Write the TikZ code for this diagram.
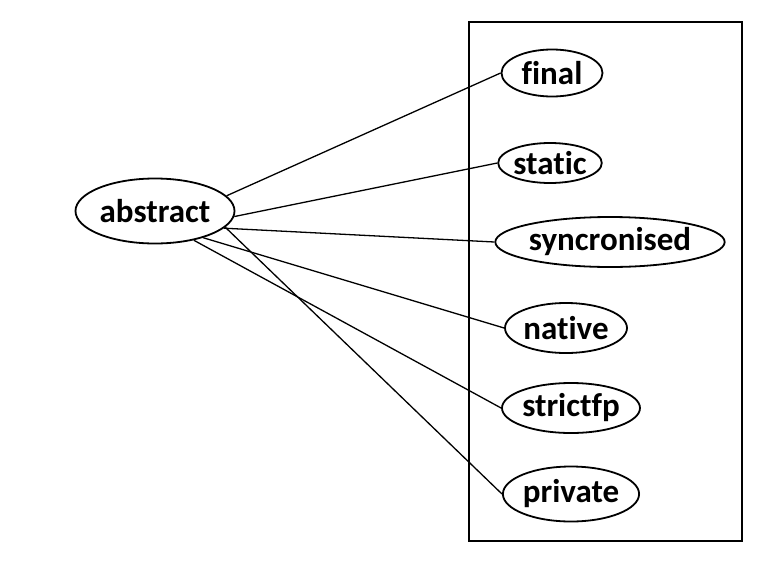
\documentclass[tikz,border=0pt]{standalone}
\usepackage{fontspec}
\setmainfont[Ligatures=NoCommon]{Carlito}
\usetikzlibrary{shapes.geometric}

\begin{document}
\begin{tikzpicture}[x=1pt,y=-1pt,
  kw/.style={draw,ellipse,line width=1.8pt,inner sep=0pt,font=\fontsize{33}{36}\selectfont\bfseries},
  link/.style={line width=1.3pt}]
  \useasboundingbox (0,0) rectangle (778,573);
  \draw[line width=2pt] (469,22) rectangle (742,541);
  \node[kw,minimum width=159pt,minimum height=65pt] (abstract) at (155,211) {abstract};
  \foreach \name/\x/\y/\w/\h/\a in {final/552/73/101/47/12,static/550/163/98/40/-4,
      syncronised/610/242/226/50/-14,native/566/328/122/50/-29,
      strictfp/571/408/138/50/-37,private/571/494/127/55/-13}{
    \node[kw,minimum width=\w pt,minimum height=\h pt] (\name) at (\x,\y) {\name};
    \draw[link] (abstract.\a) -- (\name.west);
  }
\end{tikzpicture}
\end{document}
